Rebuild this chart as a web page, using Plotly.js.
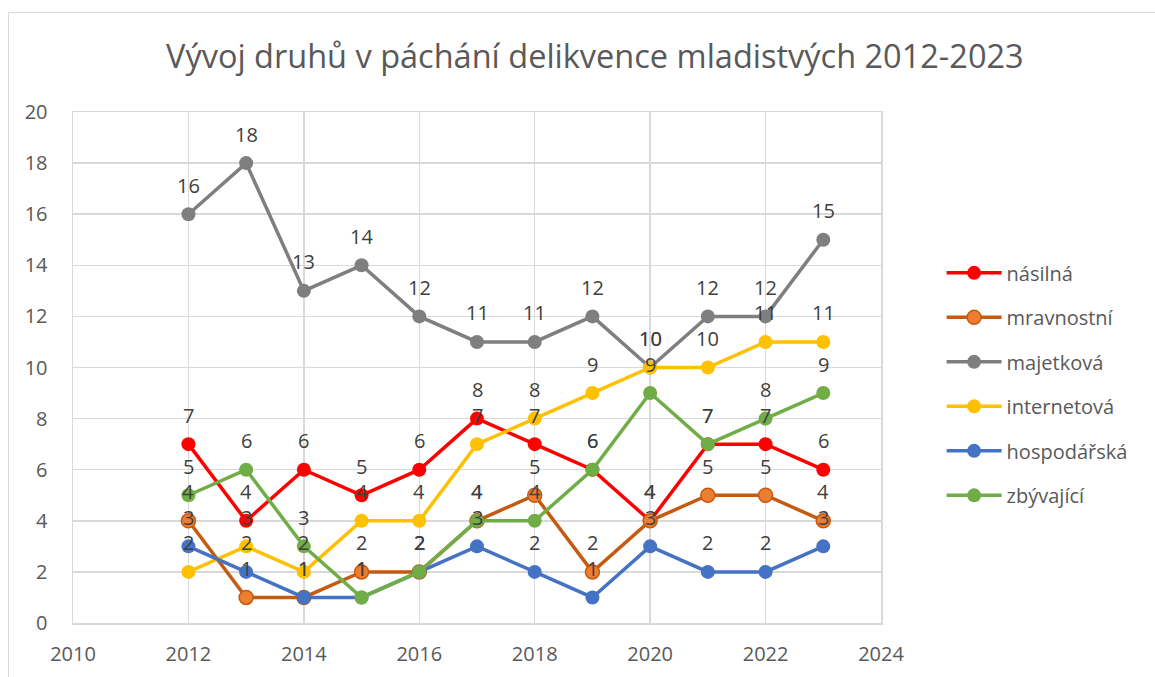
<!DOCTYPE html>
<html>
<head>
<meta charset="utf-8">
<script src="https://cdn.plot.ly/plotly-3.0.1.min.js"></script>
<style>
  html, body { margin: 0; padding: 0; background: #fff; overflow: hidden; }
  #wrap { position: relative; width: 1155px; height: 677px; }
  #chart { width: 1155px; height: 677px; }
  #frame { position: absolute; left: 8px; top: 12px; width: 1160px; height: 680px;
           border-top: 1.5px solid #d9d9d9; border-left: 1.5px solid #d9d9d9; pointer-events: none; }
</style>
</head>
<body>
<div id="wrap">
  <div id="chart"></div>
  <div id="frame"></div>
</div>
<script>
const years = [2012, 2013, 2014, 2015, 2016, 2017, 2018, 2019, 2020, 2021, 2022, 2023];
const seriesNames = ["násilná", "mravnostní", "majetková", "internetová", "hospodářská", "zbývající"];
const nasilna     = [7, 4, 6, 5, 6, 8, 7, 6, 4, 7, 7, 6];
const mravnostni  = [4, 1, 1, 2, 2, 4, 5, 2, 4, 5, 5, 4];
const majetkova   = [16, 18, 13, 14, 12, 11, 11, 12, 10, 12, 12, 15];
const internetova = [2, 3, 2, 4, 4, 7, 8, 9, 10, 10, 11, 11];
const hospodarska = [3, 2, 1, 1, 2, 3, 2, 1, 3, 2, 2, 3];
const zbyvajici   = [5, 6, 3, 1, 2, 4, 4, 6, 9, 7, 8, 9];
const xTicks = [2010, 2012, 2014, 2016, 2018, 2020, 2022, 2024];
const yTicks = [0, 2, 4, 6, 8, 10, 12, 14, 16, 18, 20];
const titleText = "Vývoj druhů v páchání delikvence mladistvých 2012-2023";

const values = [nasilna, mravnostni, majetkova, internetova, hospodarska, zbyvajici];
const lineColors = ["#FF0000", "#C55A11", "#7F7F7F", "#FFC000", "#4472C4", "#70AD47"];
const markerColors = ["#FF0000", "#ED7D31", "#7F7F7F", "#FFC000", "#4472C4", "#70AD47"];
const markerLines = ["#FF0000", "#C55A11", "#7F7F7F", "#FFC000", "#4472C4", "#70AD47"];

const FONT = "Open Sans, Noto Sans, sans-serif";

const traces = values.map((v, i) => ({
  type: "scatter",
  mode: "lines+markers",
  name: seriesNames[i],
  legendgroup: "g" + i,
  x: years,
  y: v,
  line: { color: lineColors[i], width: 3.5 },
  marker: { size: 14, color: markerColors[i], line: { color: markerLines[i], width: i === 1 ? 1.5 : 0 } },
  hoverinfo: "x+y+name"
}));

const annotations = [];
values.forEach((v) => {
  v.forEach((val, j) => {
    annotations.push({
      x: years[j], y: val, xref: "x", yref: "y",
      text: String(val), showarrow: false,
      xanchor: "center", yanchor: "middle", yshift: 29,
      font: { family: FONT, size: 20, color: "#404040" }
    });
  });
});

const layout = {
  width: 1155, height: 677,
  margin: { l: 73, r: 273.5, t: 112, b: 54.3, pad: 0 },
  paper_bgcolor: "#ffffff",
  plot_bgcolor: "#ffffff",
  title: {
    text: titleText,
    font: { family: FONT, size: 32.5, color: "#595959" },
    xref: "container", x: 0.515, xanchor: "center",
    yref: "container", y: 0.916, yanchor: "middle"
  },
  xaxis: {
    range: [2010, 2024],
    tickvals: xTicks,
    ticktext: xTicks.map(String),
    showgrid: true, gridcolor: "#d9d9d9", gridwidth: 1.5,
    showline: true, linecolor: "#d9d9d9", linewidth: 1.5, mirror: true,
    zeroline: false, ticks: "",
    ticklabelstandoff: 12,
    tickfont: { family: FONT, size: 20, color: "#595959" },
    fixedrange: true
  },
  yaxis: {
    range: [0, 20],
    tickvals: yTicks,
    ticktext: yTicks.map(String),
    showgrid: true, gridcolor: "#d9d9d9", gridwidth: 1.5,
    showline: true, linecolor: "#d9d9d9", linewidth: 1.5, mirror: true,
    zeroline: false, ticks: "",
    ticklabelstandoff: 20,
    tickfont: { family: FONT, size: 20, color: "#595959" },
    fixedrange: true
  },
  legend: {
    x: 1.075, xanchor: "left",
    y: 0.467, yanchor: "middle",
    traceorder: "grouped",
    tracegroupgap: 15.5,
    itemwidth: 55,
    font: { family: FONT, size: 20, color: "#595959" },
    bgcolor: "rgba(0,0,0,0)"
  },
  showlegend: true,
  annotations: annotations
};

Plotly.newPlot("chart", traces, layout, { displayModeBar: false, staticPlot: true });
</script>
</body>
</html>
